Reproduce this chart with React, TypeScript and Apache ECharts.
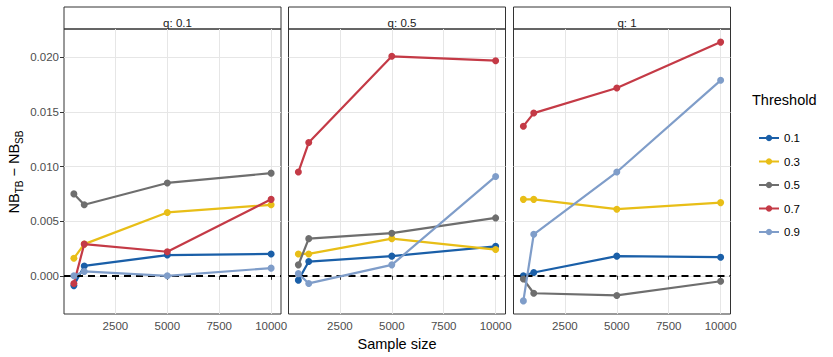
import React, { useEffect, useRef } from "react";
import * as echarts from "echarts";

const sampleSizes = [500, 1000, 5000, 10000];
const panels = ["q: 0.1", "q: 0.5", "q: 1"];
const thresholds = ["0.1", "0.3", "0.5", "0.7", "0.9"];
const colors = ["#1A5FA8", "#E8BE17", "#6E6E6E", "#C43A46", "#7F9DC9"];

// values per panel: one row per threshold, one value per sample size
const q01 = [
  [-0.0009, 0.0009, 0.0019, 0.002],
  [0.0016, 0.0029, 0.0058, 0.0065],
  [0.0075, 0.0065, 0.0085, 0.0094],
  [-0.0007, 0.0029, 0.0022, 0.007],
  [0.0, 0.0004, 0.0, 0.0007],
];
const q05 = [
  [-0.0004, 0.0013, 0.0018, 0.0027],
  [0.002, 0.002, 0.0034, 0.0024],
  [0.001, 0.0034, 0.0039, 0.0053],
  [0.0095, 0.0122, 0.0201, 0.0197],
  [0.0002, -0.0007, 0.001, 0.0091],
];
const q1 = [
  [0.0, 0.0003, 0.0018, 0.0017],
  [0.007, 0.007, 0.0061, 0.0067],
  [-0.0003, -0.0016, -0.0018, -0.0005],
  [0.0137, 0.0149, 0.0172, 0.0214],
  [-0.0023, 0.0038, 0.0095, 0.0179],
];
const panelValues = [q01, q05, q1];

const xTicks = [2500, 5000, 7500, 10000];
const yTicks = [0, 0.005, 0.01, 0.015, 0.02];

const FONT = "Liberation Sans, Arial, sans-serif";

export default function App() {
  const ref = useRef<HTMLDivElement>(null);
  useEffect(() => {
    if (!ref.current) return;
    const chart = echarts.init(ref.current, undefined, { renderer: "svg" });
    const gridLefts = [64, 288.5, 513.5];
    const gridW = 217;
    const grids = gridLefts.map((l) => ({
      left: l,
      width: gridW,
      top: 29,
      bottom: 43,
      show: true,
      containLabel: false,
      outerBoundsMode: "none",
      borderColor: "#333333",
      borderWidth: 1,
      backgroundColor: "transparent",
    }));
    const xAxes = gridLefts.map((_, i) => ({
      type: "value",
      gridIndex: i,
      min: 25,
      max: 10475,
      name: i === 1 ? "Sample size" : "",
      nameLocation: "middle",
      nameGap: 21,
      nameTextStyle: { fontSize: 14.5, color: "#000", fontFamily: FONT },
      axisLine: { show: false },
      axisTick: { show: true, length: 4, lineStyle: { color: "#333" }, customValues: xTicks },
      axisLabel: {
        customValues: xTicks,
        fontSize: 11.5,
        color: "#4d4d4d",
        fontFamily: FONT,
        margin: 6,
        formatter: (v: number) => String(v),
      },
      splitLine: { show: true, lineStyle: { color: "#E6E6E6", width: 1 } },
    }));
    const yAxes = gridLefts.map((_, i) => ({
      type: "value",
      gridIndex: i,
      min: -0.0035,
      max: 0.0226,
      axisLine: { show: false },
      axisTick: { show: i === 0, length: 4, lineStyle: { color: "#333" }, customValues: yTicks },
      axisLabel: {
        show: i === 0,
        customValues: yTicks,
        fontSize: 11.5,
        color: "#4d4d4d",
        fontFamily: FONT,
        margin: 5,
        formatter: (v: number) => v.toFixed(3),
      },
      splitLine: { show: true, lineStyle: { color: "#E6E6E6", width: 1 } },
    }));
    const series: any[] = [];
    panelValues.forEach((pv, p) => {
      thresholds.forEach((t, k) => {
        series.push({
          type: "line",
          name: t,
          xAxisIndex: p,
          yAxisIndex: p,
          data: sampleSizes.map((x, j) => [x, pv[k][j]]),
          color: colors[k],
          lineStyle: { width: 2.2, color: colors[k] },
          itemStyle: { color: colors[k] },
          symbol: "circle",
          symbolSize: 7,
          showSymbol: true,
          z: 2 + k,
        });
      });
      series.push({
        type: "line",
        name: "zero",
        xAxisIndex: p,
        yAxisIndex: p,
        data: [],
        z: 10,
        markLine: {
          silent: true,
          symbol: "none",
          label: { show: false },
          lineStyle: { color: "#000", width: 2, type: [7, 5] },
          data: [{ yAxis: 0 }],
        },
      });
    });
    const titles = gridLefts.map((l, i) => ({
      text: panels[i],
      left: l + gridW / 2,
      top: 12,
      textAlign: "center",
      textStyle: { fontSize: 11.5, fontWeight: "normal", color: "#1a1a1a", fontFamily: FONT },
    }));
    const graphics: any[] = [];
    gridLefts.forEach((l) => {
      graphics.push({
        type: "rect",
        z: -1,
        shape: { x: l, y: 7, width: gridW, height: 22 },
        style: { fill: "#ffffff", stroke: "#333333", lineWidth: 1 },
      });
    });
    graphics.push({
      type: "text",
      x: 14,
      y: 172,
      rotation: Math.PI / 2,
      style: {
        text: "{a|NB}{s|TB}{a| − NB}{s|SB}",
        align: "center",
        verticalAlign: "middle",
        fontFamily: FONT,
        fill: "#000",
        rich: {
          a: { fontSize: 14.5, fontFamily: FONT, fill: "#000", verticalAlign: "middle", lineHeight: 20 },
          s: { fontSize: 10, fontFamily: FONT, fill: "#000", verticalAlign: "bottom", lineHeight: 20, padding: [8, 0, 0, 0] },
        },
      },
    });
    graphics.push({
      type: "text",
      x: 752,
      y: 100,
      style: {
        text: "Threshold",
        fontSize: 14.5,
        fontWeight: "normal",
        fill: "#000",
        fontFamily: FONT,
        align: "left",
        verticalAlign: "middle",
      },
    });
    chart.setOption({
      animation: false,
      backgroundColor: "#fff",
      title: titles,
      grid: grids,
      xAxis: xAxes,
      yAxis: yAxes,
      series,
      legend: {
        data: thresholds,
        orient: "vertical",
        left: 753,
        top: 127,
        itemWidth: 20,
        itemHeight: 8,
        itemGap: 11.5,
        textStyle: { fontSize: 11.5, color: "#000", fontFamily: FONT },
        selectedMode: false,
      },
      graphic: graphics,
    });
    return () => chart.dispose();
  }, []);
  return <div ref={ref} style={{ position: "fixed", left: 0, top: 0, width: 833, height: 357 }} />;
}
